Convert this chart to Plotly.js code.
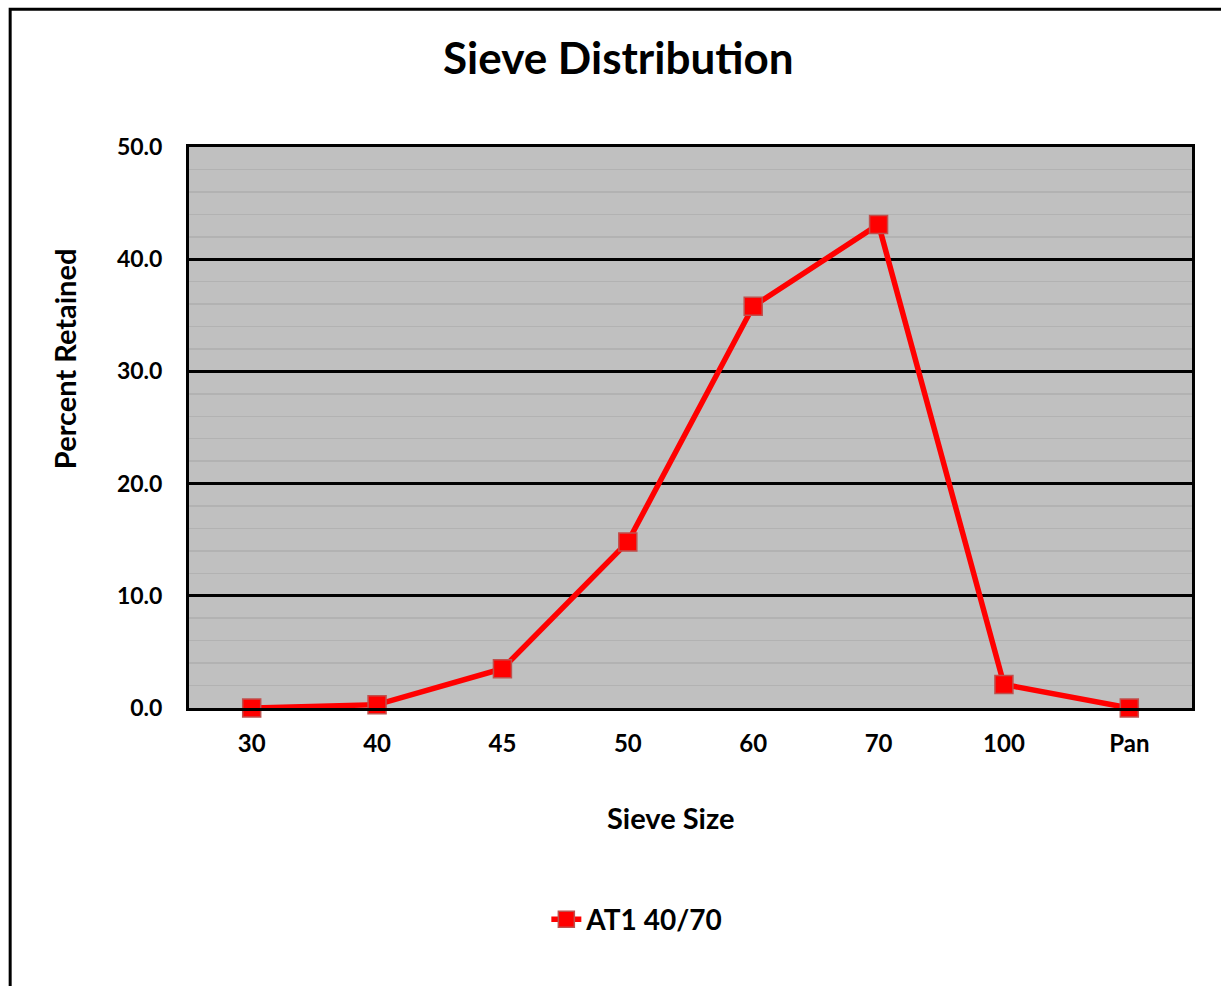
<!DOCTYPE html>
<html>
<head>
<meta charset="utf-8">
<script src="https://cdn.plot.ly/plotly-3.0.1.min.js"></script>
<style>html,body{margin:0;padding:0;background:#fff;}#chart{width:1221px;height:986px;}</style>
</head>
<body>
<div id="chart"></div>
<script>
const categories = ["30", "40", "45", "50", "60", "70", "100", "Pan"];
const percentRetained = [0.0, 0.3, 3.5, 14.8, 35.8, 43.1, 2.1, 0.0];
const seriesName = "AT1 40/70";
const yTickValues = [0, 10, 20, 30, 40, 50];

const FONT = "Lato, 'Open Sans', sans-serif";

const trace = {
  x: categories,
  y: percentRetained,
  type: "scatter",
  mode: "lines+markers",
  name: seriesName,
  cliponaxis: false,
  line: {color: "#FF0000", width: 5.5},
  marker: {symbol: "square", size: 18, color: "#FF0000", line: {color: "#C0504D", width: 1.5}},
  showlegend: true
};

const layout = {
  width: 1221,
  height: 986,
  margin: {l: 189, r: 29, t: 147, b: 278},
  paper_bgcolor: "#FFFFFF",
  plot_bgcolor: "#C0C0C0",
  font: {family: FONT, color: "#000000"},
  showlegend: true,
  legend: {
    orientation: "h",
    x: 0.447, xanchor: "center",
    y: -0.377, yanchor: "middle",
    font: {family: FONT, size: 28, color: "#000", weight: "bold"},
    bgcolor: "rgba(0,0,0,0)"
  },
  xaxis: {
    type: "category",
    range: [-0.5, 7.5],
    showgrid: false,
    showline: true, linecolor: "#000", linewidth: 3, mirror: true,
    ticks: "", ticklabelstandoff: 12,
    tickfont: {family: FONT, size: 24, color: "#000", weight: "bold"},
    zeroline: false,
    fixedrange: true
  },
  yaxis: {
    range: [0, 50],
    tickvals: yTickValues,
    tickformat: ".1f",
    showgrid: true, gridcolor: "#000000", gridwidth: 2.8,
    minor: {dtick: 2, showgrid: true, gridcolor: "#B2B2B2", gridwidth: 1.5, ticks: ""},
    showline: true, linecolor: "#000", linewidth: 3, mirror: true,
    ticks: "", ticklabelstandoff: 19,
    tickfont: {family: FONT, size: 23, color: "#000", weight: "bold"},
    zeroline: false,
    fixedrange: true
  },
  annotations: [
    {text: "Sieve Distribution", xref: "paper", yref: "paper", x: 0.428, y: 1.16, xanchor: "center", yanchor: "middle", showarrow: false,
     font: {family: FONT, size: 44, color: "#000", weight: "bold"}},
    {text: "Percent Retained", xref: "paper", yref: "paper", x: -0.124, y: 0.623, xanchor: "center", yanchor: "middle", textangle: -90, showarrow: false,
     font: {family: FONT, size: 29, color: "#000", weight: "bold"}},
    {text: "Sieve Size", xref: "paper", yref: "paper", x: 0.48, y: -0.196, xanchor: "center", yanchor: "middle", showarrow: false,
     font: {family: FONT, size: 29, color: "#000", weight: "bold"}}
  ],
  shapes: [
    {type: "rect", xref: "paper", yref: "paper", x0: -0.1783, x1: 1.3, y0: -1, y1: 1.2456, line: {color: "#000", width: 3}, fillcolor: "rgba(0,0,0,0)", layer: "below"}
  ]
};

Plotly.newPlot("chart", [trace], layout, {displayModeBar: false, staticPlot: true});
</script>
</body>
</html>
